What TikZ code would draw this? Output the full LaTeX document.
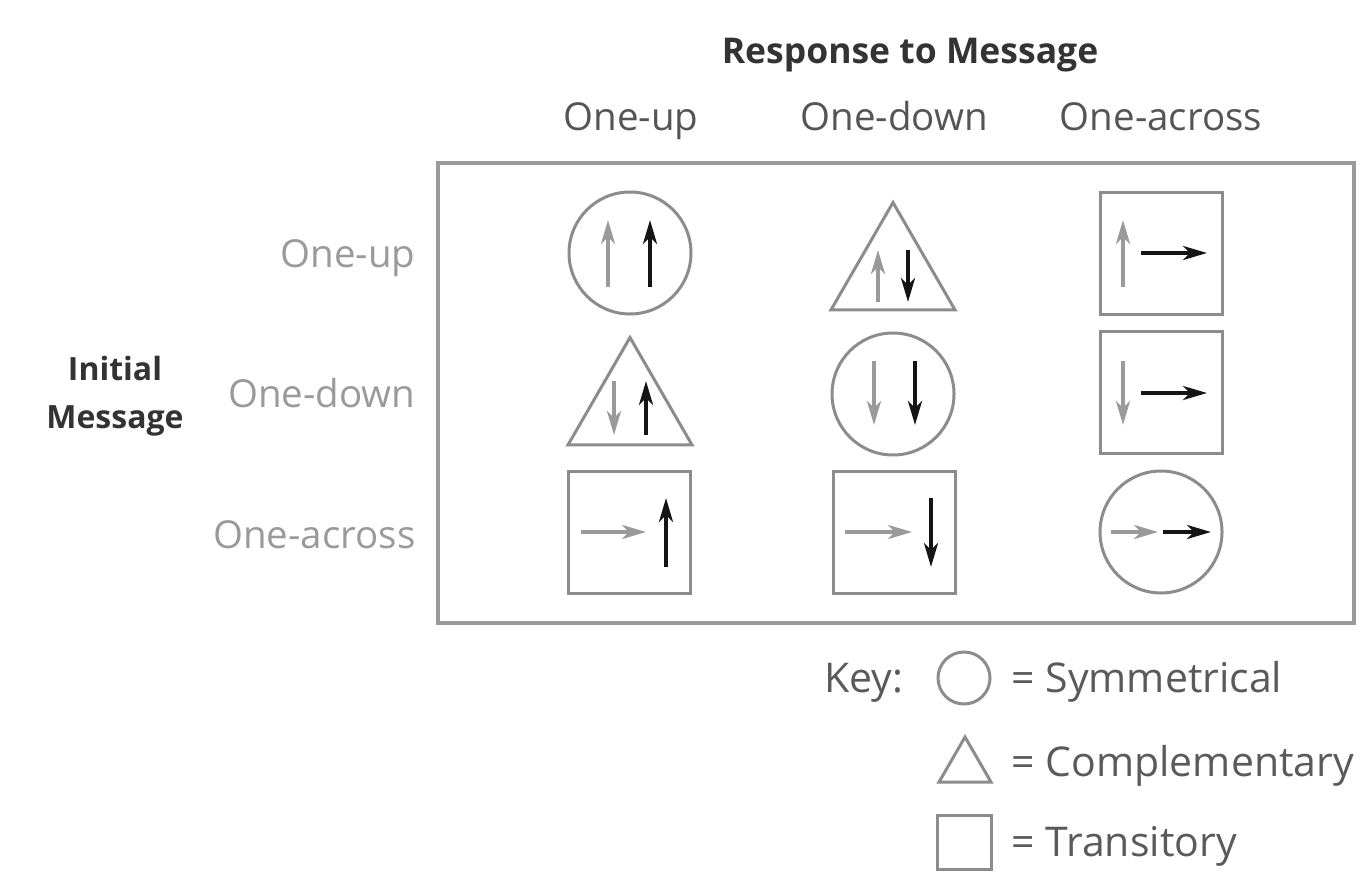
\documentclass[tikz,border=0pt]{standalone}
\usepackage{fontspec}
\setmainfont{Open Sans}
\usetikzlibrary{shapes.geometric,arrows.meta}
\definecolor{shapegray}{HTML}{8C8C8C}
\definecolor{boxgray}{HTML}{9A9A9A}
\definecolor{titlegray}{HTML}{333333}
\definecolor{headgray}{HTML}{555555}
\definecolor{rowgray}{HTML}{9A9A9A}
\definecolor{keygray}{HTML}{5A5A5A}
\definecolor{arrgray}{HTML}{9A9A9A}
\definecolor{arrblack}{HTML}{151515}
\tikzset{
  sym/.style={circle,draw=shapegray,line width=3pt,minimum size=122pt,inner sep=0pt},
  comp/.style={regular polygon,regular polygon sides=3,draw=shapegray,line width=3pt,minimum size=143pt,inner sep=0pt},
  trans/.style={rectangle,draw=shapegray,line width=3pt,minimum size=122pt,inner sep=0pt},
  ksym/.style={circle,draw=shapegray,line width=3pt,minimum size=52pt,inner sep=0pt},
  kcomp/.style={regular polygon,regular polygon sides=3,draw=shapegray,line width=3pt,minimum size=60pt,inner sep=0pt},
  ktrans/.style={rectangle,draw=shapegray,line width=3pt,minimum size=54pt,inner sep=0pt},
  garr/.style={draw=arrgray,line width=4pt,-{Stealth[length=24pt,width=14pt,inset=7pt]}},
  barr/.style={draw=arrblack,line width=4pt,-{Stealth[length=24pt,width=14pt,inset=7pt]}},
  titletxt/.style={font=\fontsize{35.5}{40}\selectfont\bfseries,text=titlegray},
  headtxt/.style={font=\fontsize{38.5}{40}\selectfont,text=headgray,anchor=base},
  rowtxt/.style={font=\fontsize{38.5}{40}\selectfont,text=rowgray,anchor=base east},
  keytxt/.style={font=\fontsize{41}{44}\selectfont,text=keygray,anchor=base west},
}
\begin{document}
\begin{tikzpicture}[x=1pt,y=-1pt]
\useasboundingbox (0,0) rectangle (1364,872);
% titles
\node[titletxt,anchor=base] (title) at (910,64) {Response to Message};
\node[headtxt] (h1) at (631,131) {One-up};
\node[headtxt] (h2) at (894,131) {One-down};
\node[headtxt] (h3) at (1161,131) {One-across};
\node[titletxt,font=\fontsize{32}{48}\selectfont\bfseries,align=center] (init) at (115,396) {Initial\\Message};
\node[rowtxt] (r1) at (419,267) {One-up};
\node[rowtxt] (r2) at (419,407) {One-down};
\node[rowtxt] (r3) at (419,548) {One-across};
% main frame
\draw[boxgray,line width=3.5pt] (438,163) rectangle (1354,623);
% cells
\node[sym]   (c11) at (630,253) {};
\node[comp]  (c12) at (893,274) {};
\node[trans] (c13) at (1161,253) {};
\node[comp]  (c21) at (630,409) {};
\node[sym]   (c22) at (893,394) {};
\node[trans] (c23) at (1161,392) {};
\node[trans] (c31) at (629,532) {};
\node[trans] (c32) at (894,532) {};
\node[sym]   (c33) at (1161,532) {};
% arrows row 1
\draw[garr] (608,287) -- (608,220);
\draw[barr] (650,287) -- (650,220);
\draw[garr] (878,302) -- (878,250);
\draw[barr] (908,250) -- (908,302);
\draw[garr] (1123,287) -- (1123,220);
\draw[barr] (1141,253) -- (1207,253);
% arrows row 2
\draw[garr] (614,381) -- (614,435);
\draw[barr] (646,435) -- (646,381);
\draw[garr] (874,361) -- (874,425);
\draw[barr] (915,361) -- (915,425);
\draw[garr] (1123,361) -- (1123,425);
\draw[barr] (1141,393) -- (1207,393);
% arrows row 3
\draw[garr] (581,532) -- (646,532);
\draw[barr] (666,567) -- (666,498);
\draw[garr] (845,532) -- (912,532);
\draw[barr] (931,498) -- (931,567);
\draw[garr] (1111,532) -- (1158,532);
\draw[barr] (1163,532) -- (1211,532);
% key
\node[keytxt,anchor=base east] (key) at (907,692) {Key:};
\node[ksym]   (k1) at (964,678) {};
\node[kcomp]  (k2) at (965,767) {};
\node[ktrans] (k3) at (964,842) {};
\node[keytxt] (t1) at (1008,692) {= Symmetrical};
\node[keytxt] (t2) at (1008,776) {= Complementary};
\node[keytxt] (t3) at (1008,856) {= Transitory};
\end{tikzpicture}
\end{document}
